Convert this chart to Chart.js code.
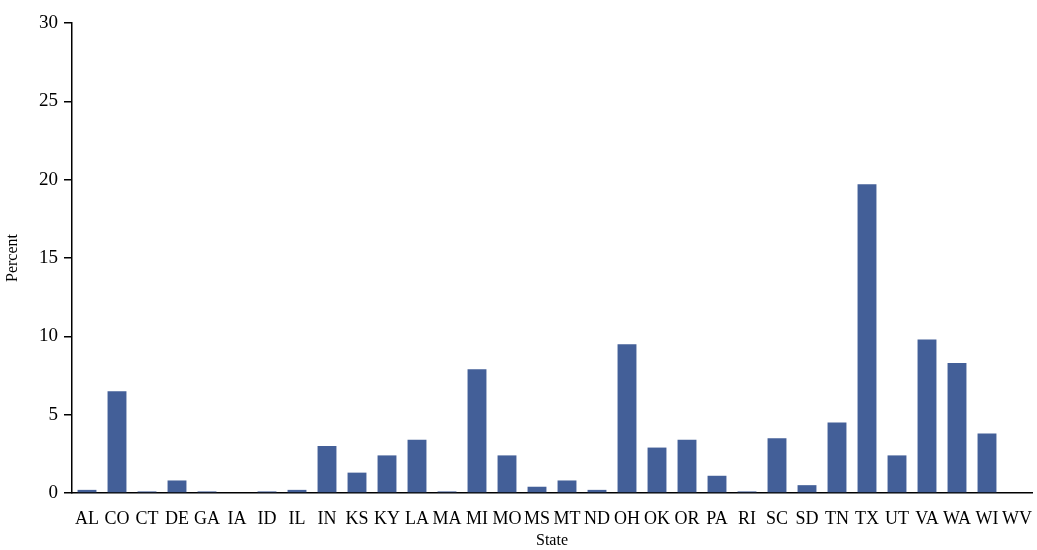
<!DOCTYPE html>
<html>
<head>
<meta charset="utf-8">
<script src="https://cdn.jsdelivr.net/npm/chart.js@4.4.1/dist/chart.umd.min.js"></script>
<style>
  html, body { margin: 0; padding: 0; background: #fff; }
  #wrap { width: 1037px; height: 550px; }
</style>
</head>
<body>
<div id="wrap"><canvas id="chart" width="1037" height="550"></canvas></div>
<script>
// states along the x axis
const states = ['AL', 'CO', 'CT', 'DE', 'GA', 'IA', 'ID', 'IL', 'IN', 'KS', 'KY', 'LA', 'MA', 'MI', 'MO', 'MS',
                'MT', 'ND', 'OH', 'OK', 'OR', 'PA', 'RI', 'SC', 'SD', 'TN', 'TX', 'UT', 'VA', 'WA', 'WI', 'WV'];
// percent per state
const percent = [0.2, 6.5, 0.1, 0.8, 0.1, 0, 0.1, 0.2, 3.0, 1.3, 2.4, 3.4, 0.1, 7.9, 2.4, 0.4,
                 0.8, 0.2, 9.5, 2.9, 3.4, 1.1, 0.1, 3.5, 0.5, 4.5, 19.7, 2.4, 9.8, 8.3, 3.8, 0];
const yTicks = [0, 5, 10, 15, 20, 25, 30];

const serif = "'Liberation Serif', 'DejaVu Serif', serif";

new Chart(document.getElementById('chart'), {
    type: 'bar',
    data: {
        labels: states,
        datasets: [{
            data: percent,
            backgroundColor: '#435f98',
            borderWidth: 0,
            barPercentage: 0.9,
            categoryPercentage: 0.7
        }]
    },
    options: {
        responsive: false,
        animation: false,
        layout: { padding: { top: 23, right: 5, left: 0, bottom: 0 } },
        plugins: { legend: { display: false }, tooltip: { enabled: false } },
        scales: {
            x: {
                grid: { drawOnChartArea: false, drawTicks: false },
                border: { color: '#000', width: 1.5 },
                ticks: { color: '#000', font: { family: serif, size: 18 }, padding: 15, maxRotation: 0, autoSkip: false },
                title: { display: true, text: 'State', color: '#000', font: { family: serif, size: 16 }, padding: { top: 1, bottom: 0 } },
                afterFit: (s) => { s.height = 57; s.paddingLeft = 0; s.paddingRight = 0; }
            },
            y: {
                min: 0,
                max: 30,
                afterBuildTicks: (s) => { s.ticks = yTicks.map(v => ({ value: v })); },
                grid: { drawOnChartArea: false, drawTicks: true, tickLength: 8, color: '#000', lineWidth: 1.5 },
                border: { color: '#000', width: 1.5 },
                ticks: { color: '#000', font: { family: serif, size: 19 }, padding: 6 },
                title: { display: true, text: 'Percent', color: '#000', font: { family: serif, size: 16 }, padding: { top: 3, bottom: 0 } },
                afterFit: (s) => { s.width = 72; s.paddingTop = 0; s.paddingBottom = 0; }
            }
        }
    }
});
</script>
</body>
</html>
